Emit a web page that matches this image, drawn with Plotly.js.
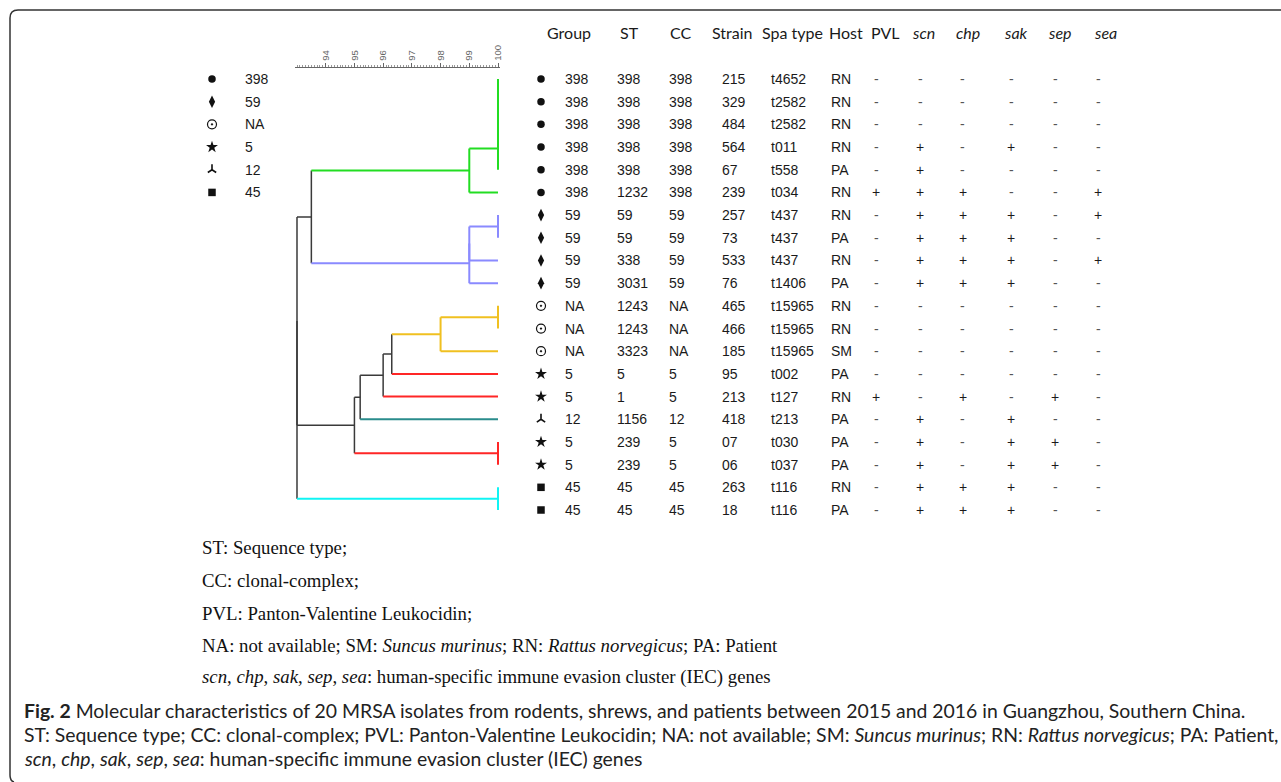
<!DOCTYPE html>
<html><head><meta charset="utf-8">
<script src="https://cdn.plot.ly/plotly-3.0.1.min.js"></script>
<style>html,body{margin:0;padding:0;background:#fff}</style>
</head><body><div id="chart" style="width:1281px;height:782px"></div>
<script>
// ---------------- DATA ----------------
const headers = ['Group','ST','CC','Strain','Spa type','Host','PVL','scn','chp','sak','sep','sea'];
const groups = ['398','398','398','398','398','398','59','59','59','59','NA','NA','NA','5','5','12','5','5','45','45'];
const st     = ['398','398','398','398','398','1232','59','59','338','3031','1243','1243','3323','5','1','1156','239','239','45','45'];
const cc     = ['398','398','398','398','398','398','59','59','59','59','NA','NA','NA','5','5','12','5','5','45','45'];
const strain = ['215','329','484','564','67','239','257','73','533','76','465','466','185','95','213','418','07','06','263','18'];
const spa    = ['t4652','t2582','t2582','t011','t558','t034','t437','t437','t437','t1406','t15965','t15965','t15965','t002','t127','t213','t030','t037','t116','t116'];
const host   = ['RN','RN','RN','RN','PA','RN','RN','PA','RN','PA','RN','RN','SM','PA','RN','PA','PA','PA','RN','PA'];
const pvl = ['-','-','-','-','-','+','-','-','-','-','-','-','-','-','+','-','-','-','-','-'];
const scn = ['-','-','-','+','+','+','+','+','+','+','-','-','-','-','-','+','+','+','+','+'];
const chp = ['-','-','-','-','-','+','+','+','+','+','-','-','-','-','+','-','-','-','+','+'];
const sak = ['-','-','-','+','-','-','+','+','+','+','-','-','-','-','-','+','+','+','+','+'];
const sep = ['-','-','-','-','-','-','-','-','-','-','-','-','-','-','+','-','+','+','-','-'];
const sea = ['-','-','-','-','-','+','+','-','+','-','-','-','-','-','-','-','-','-','-','-'];
const legendGroups = ['398','59','NA','5','12','45'];

// dendrogram (leaves 0..19 = table rows; merges create nodes 20..38)
const leafCluster = ['green','green','green','green','green','green','blue','blue','blue','blue',
                     'yellow','yellow','yellow','red','red','teal','red','red','cyan','cyan'];
const mergeA = [0,20,21,22,23, 6,25,26,24,10,29,30,31,32,16,33,28,18,36];
const mergeB = [1, 2, 3, 4, 5, 7, 8, 9,27,11,12,13,14,15,17,34,35,19,37];
const mergeH = [100,100,100,100,99.0,100,99.0,99.0,93.5,100,98.0,96.3,96.0,95.2,100,95.0,93.0,100,93.0];
const mergeCluster = ['green','green','green','green','green','blue','blue','blue','black',
                      'yellow','yellow','black','black','black','red','black','black','cyan','black'];

const captionLines = [
  'ST: Sequence type;',
  'CC: clonal-complex;',
  'PVL: Panton-Valentine Leukocidin;',
  'NA: not available; SM: <i>Suncus murinus</i>; RN: <i>Rattus norvegicus</i>; PA: Patient',
  '<i>scn</i>, <i>chp</i>, <i>sak</i>, <i>sep</i>, <i>sea</i>: human-specific immune evasion cluster (IEC) genes'
];
const figCaption = [
  '<b>Fig. 2</b> Molecular characteristics of 20 MRSA isolates from rodents, shrews, and patients between 2015 and 2016 in Guangzhou, Southern China.',
  'ST: Sequence type; CC: clonal-complex; PVL: Panton-Valentine Leukocidin; NA: not available; SM: <i>Suncus murinus</i>; RN: <i>Rattus norvegicus</i>; PA: Patient,',
  '<i>scn</i>, <i>chp</i>, <i>sak</i>, <i>sep</i>, <i>sea</i>: human-specific immune evasion cluster (IEC) genes'
];

// ---------------- STYLE / LAYOUT ----------------
const W = 1281, H = 782;
const px = v => v / W, py = v => 1 - v / H;
const colorMap = {green:'#22dd22', blue:'#8a8aff', yellow:'#f0c020', red:'#ff2626', teal:'#2a8c8c', cyan:'#10f4f4', black:'#3a3a3a'};
const symbolMap = {'398':'circle','59':'diamond-tall','NA':'circle-open-dot','5':'star','12':'y-up','45':'square'};
const sizeMap = {'398':7.5,'59':9,'NA':9,'5':9,'12':7,'45':7.5};
const lineWMap = {'398':0,'59':0,'NA':1.2,'5':0,'12':1.6,'45':0};
const colText = [563, 615, 667, 720, 769, 829];       // left edges of text columns
const colSign = [876, 920, 963, 1011, 1055, 1098];    // centres of +/- columns
const headerX = [545, 618, 668, 710, 760, 827, 869, 910, 954, 1002, 1046, 1092];
const symbolX = 541, legendSymX = 212, legendTextX = 243;
const rowFont = {family:'Liberation Sans, Arial, sans-serif', size:14, color:'#1a1a1a'};

// ---------------- DENDROGRAM SEGMENTS ----------------
const nodeY = [], nodeH = [], nodeC = [];
for (let i = 0; i < leafCluster.length; i++) { nodeY[i] = i + 1; nodeH[i] = 100; nodeC[i] = leafCluster[i]; }
const segs = {};
function addSeg(c, x0, y0, x1, y1) {
  if (!segs[c]) segs[c] = {x: [], y: []};
  segs[c].x.push(x0, x1, null); segs[c].y.push(y0, y1, null);
}
for (let k = 0; k < mergeA.length; k++) {
  const a = mergeA[k], b = mergeB[k], h = mergeH[k], c = mergeCluster[k], id = leafCluster.length + k;
  nodeY[id] = (nodeY[a] + nodeY[b]) / 2; nodeH[id] = h; nodeC[id] = c;
  addSeg(c, h, nodeY[a], h, nodeY[b]);
  addSeg(nodeC[a], h, nodeY[a], nodeH[a], nodeY[a]);
  addSeg(nodeC[b], h, nodeY[b], nodeH[b], nodeY[b]);
}
const traces = [];
['black','green','blue','yellow','red','teal','cyan'].forEach(c => {
  if (!segs[c]) return;
  traces.push({type:'scatter', mode:'lines', x:segs[c].x, y:segs[c].y, xaxis:'x', yaxis:'y',
    line:{color:colorMap[c], width: c === 'black' ? 1.5 : 2}, hoverinfo:'skip', showlegend:false});
});

// ---------------- MARKERS (table + left legend) ----------------
legendGroups.forEach((g, li) => {
  const xs = [], ys = [];
  groups.forEach((gg, r) => { if (gg === g) { xs.push(symbolX); ys.push(r + 1); } });
  xs.push(legendSymX); ys.push(li + 1);
  traces.push({type:'scatter', mode:'markers', x:xs, y:ys, xaxis:'x2', yaxis:'y',
    marker:{symbol:symbolMap[g], size:sizeMap[g], color:'#111', line:{color:'#111', width:lineWMap[g]}},
    hoverinfo:'skip', showlegend:false, cliponaxis:false});
});

// ---------------- ANNOTATIONS ----------------
const ann = [];
const italicCols = ['scn','chp','sak','sep','sea'];
headers.forEach((h, i) => {
  ann.push({xref:'paper', yref:'paper', x:px(headerX[i]), y:py(32), xanchor:'left', yanchor:'middle',
    text: italicCols.includes(h) ? '<i>' + h + '</i>' : h, showarrow:false,
    font:{family:'Lato, Open Sans, sans-serif', size:16, color:'#1a1a1a'}});
});
const textCols = [groups, st, cc, strain, spa, host];
const signCols = [pvl, scn, chp, sak, sep, sea];
for (let r = 0; r < groups.length; r++) {
  textCols.forEach((col, ci) => {
    ann.push({xref:'paper', yref:'y', x:px(colText[ci]), y:r + 1, xanchor:'left', yanchor:'middle',
      text:col[r], showarrow:false, font:rowFont});
  });
  signCols.forEach((col, ci) => {
    ann.push({xref:'paper', yref:'y', x:px(colSign[ci]), y:r + 1, xanchor:'center', yanchor:'middle',
      text:col[r], showarrow:false, font:{family:rowFont.family, size:14, color: col[r] === '-' ? '#555' : '#1a1a1a'}});
  });
}
legendGroups.forEach((g, li) => {
  ann.push({xref:'paper', yref:'y', x:px(legendTextX), y:li + 1, xanchor:'left', yanchor:'middle',
    text:g, showarrow:false, font:rowFont});
});
const capY = [547, 580, 613, 645, 677];
captionLines.forEach((t, i) => {
  ann.push({xref:'paper', yref:'paper', x:px(200), y:py(capY[i]), xanchor:'left', yanchor:'middle',
    text:t, showarrow:false, font:{family:'Liberation Serif, Times New Roman, serif', size:18.8, color:'#111'}});
});
const figY = [710, 734, 758];
figCaption.forEach((t, i) => {
  ann.push({xref:'paper', yref:'paper', x:px(22), y:py(figY[i]), xanchor:'left', yanchor:'middle',
    text:t, showarrow:false, font:{family:'Lato, Open Sans, sans-serif', size:19.4, color:'#222'}});
});

// rounded frame
const frame = `M ${px(14)},${py(782)} Q ${px(10)},${py(781)} ${px(10)},${py(775)} L ${px(10)},${py(18)} ` +
              `Q ${px(10)},${py(10)} ${px(18)},${py(10)} L ${px(1300)},${py(10)}`;

// axes geometry: rows 1..20 at pixels 79..510
const rowStep = (510 - 79) / 19;
const yTop = 79 - 0.5 * rowStep, yBot = 510 + 0.5 * rowStep;
const unit = (498 - 297) / 7;   // pixels per similarity unit
const xLo = 92.93, xHi = 100.07;
const xLeft = 297 - (93 - xLo) * unit, xRight = 498 + (xHi - 100) * unit;

const layout = {
  width: W, height: H, margin:{l:0, r:0, t:0, b:0},
  paper_bgcolor:'#fff', plot_bgcolor:'rgba(0,0,0,0)', showlegend:false,
  xaxis:{domain:[px(xLeft), px(xRight)], range:[xLo, xHi], side:'top', anchor:'y',
    showline:true, linecolor:'#666', linewidth:1, showgrid:false, zeroline:false,
    tickmode:'array', tickvals:[94,95,96,97,98,99,100], ticks:'outside', ticklen:4, tickcolor:'#666', tickwidth:1,
    minor:{tickmode:'linear', tick0:93, dtick:0.1, ticks:'outside', ticklen:2, tickcolor:'#999'},
    tickangle:-90, tickfont:{family:'Liberation Sans, Arial, sans-serif', size:9.5, color:'#666'}, fixedrange:true},
  xaxis2:{domain:[0,1], range:[0, W], anchor:'y', visible:false, fixedrange:true},
  yaxis:{domain:[py(yBot), py(yTop)], range:[20.5, 0.5], visible:false, fixedrange:true},
  annotations: ann,
  shapes:[{type:'path', xref:'paper', yref:'paper', path:frame, line:{color:'#333', width:1.5}}]
};
Plotly.newPlot('chart', traces, layout, {staticPlot:true, displayModeBar:false});
</script>
</body></html>
